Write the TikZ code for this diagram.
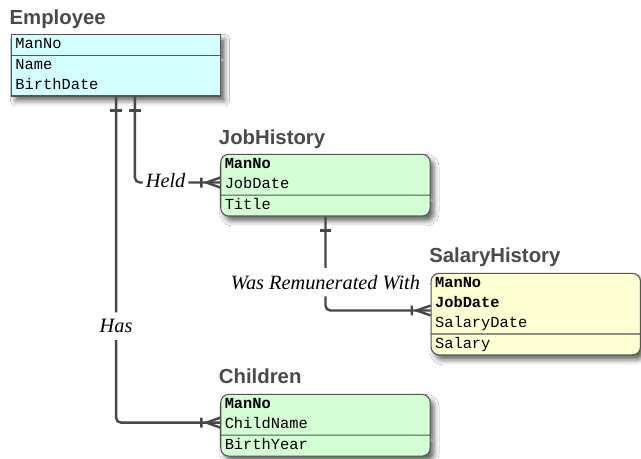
\documentclass[tikz,border=0pt]{standalone}
\usepackage{fontspec}
\setmainfont{Liberation Serif}
\setsansfont{Liberation Sans}
\setmonofont{Liberation Mono}
\usetikzlibrary{shapes.multipart,decorations.markings,shadows.blur}

\definecolor{empfill}{HTML}{D4FFFF}
\definecolor{jobfill}{HTML}{D4FFD4}
\definecolor{salfill}{HTML}{FFFFD4}
\definecolor{tabline}{HTML}{555555}
\definecolor{relline}{HTML}{474747}
\definecolor{titlegrey}{HTML}{4A4A4A}

\begin{document}
\begin{tikzpicture}[x=1pt, y=-1pt,
table/.style={rectangle split, rectangle split parts=2, draw=tabline, line width=1.1pt,
  text width=203pt, align=left, inner xsep=4pt, inner ysep=0pt, anchor=north west,
  font=\fontsize{15.5}{20}\selectfont\ttfamily,
  blur shadow={shadow xshift=4pt, shadow yshift=-5pt, shadow blur radius=5pt, shadow opacity=60}},
entity/.style={table, rounded corners=8pt},
title/.style={anchor=base west, inner sep=0pt, text=titlegrey, font=\fontsize{20.5}{24}\selectfont\sffamily\bfseries},
rel/.style={draw=relline, line width=2.4pt, rounded corners=5pt},
one/.style={postaction={decorate, decoration={markings, mark=at position 14pt with
  {\draw[relline, line width=2.4pt, sharp corners] (0,-6) -- (0,6);}}}},
many/.style={postaction={decorate, decoration={markings, mark=at position 1 with
  {\draw[relline, line width=2.4pt, sharp corners] (-19,-5) -- (-19,5) (0,-5) -- (-14,0) -- (0,5);}}}},
role/.style={fill=white, inner xsep=3pt, inner ysep=7pt, yshift=2pt, font=\fontsize{20.5}{24}\selectfont\itshape}]

%% page
\fill[white] (0,0) rectangle (641,462);

%% tables
\node[table, fill=empfill] (emp) at (11,34)
  {\strut ManNo \nodepart{two}\strut Name\\\strut BirthDate};
\node[entity, fill=jobfill] (job) at (222,155)
  {\strut\textbf{ManNo}\\\strut JobDate \nodepart{two}\strut Title};
\node[entity, fill=salfill] (sal) at (434,275)
  {\strut\textbf{ManNo}\\\strut\textbf{JobDate}\\\strut SalaryDate \nodepart{two}\strut Salary};
\node[entity, fill=jobfill] (kid) at (222,397)
  {\strut\textbf{ManNo}\\\strut ChildName \nodepart{two}\strut BirthYear};

%% table names
\node[title] (emp-t) at ([xshift=-1.5pt,yshift=9.5pt]emp.north west) {Employee};
\node[title] (job-t) at ([xshift=-1.5pt,yshift=9.5pt]job.north west) {JobHistory};
\node[title] (sal-t) at ([xshift=-1.5pt,yshift=10pt]sal.north west) {SalaryHistory};
\node[title] (kid-t) at ([xshift=-1.5pt,yshift=10pt]kid.north west) {Children};

%% connector ends
\coordinate (emp-has) at ([xshift=106pt]emp.south west);
\coordinate (emp-held) at ([xshift=125pt]emp.south west);
\coordinate (job-in) at ([yshift=-29pt]job.north west);
\coordinate (sal-in) at ([yshift=-38pt]sal.north west);
\coordinate (kid-in) at ([yshift=-29pt]kid.north west);

%% relationships
\draw[rel, one, many] (emp-held) |- (job-in) node[role, pos=0.68] {Held};
\draw[rel, one, many] (job.south) |- (sal-in) node[role, pos=0.36] {Was Remunerated With};
\draw[rel, one, many] (emp-has) |- (kid-in) node[role, pos=0.355] {Has};

\end{tikzpicture}
\end{document}
